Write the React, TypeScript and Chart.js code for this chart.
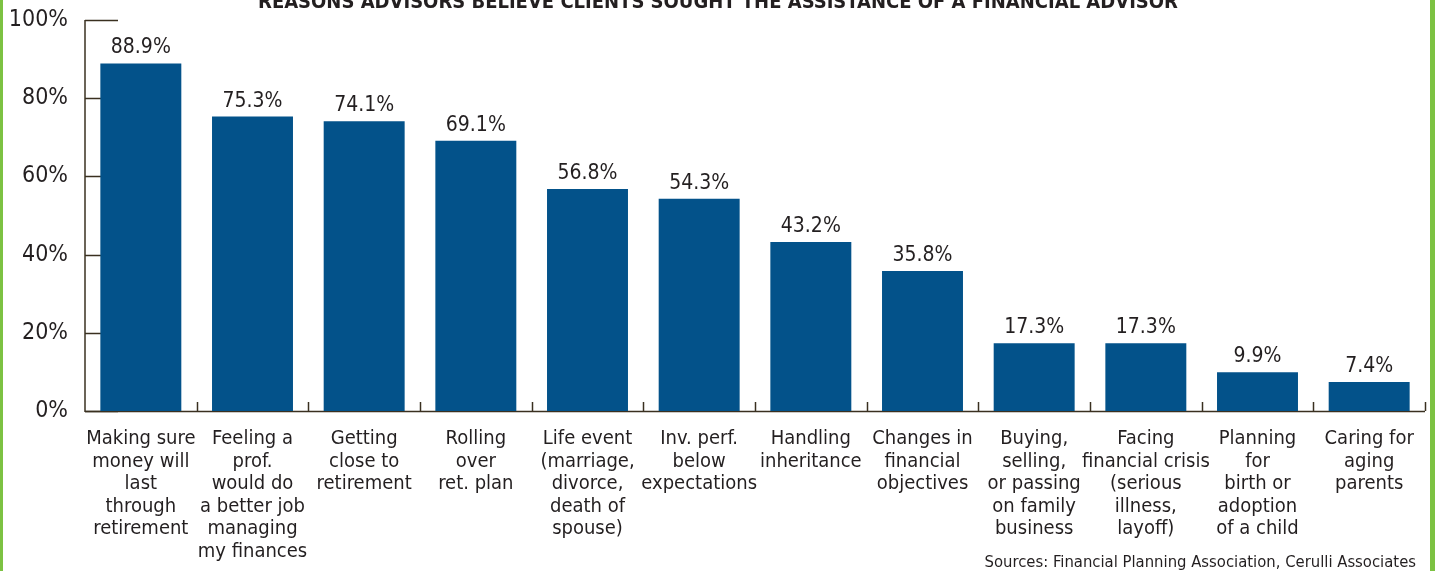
import React, { useEffect, useRef } from "react";
import Chart from "chart.js/auto";

const categories: string[][] = [
  ["Making sure", "money will", "last", "through", "retirement"],
  ["Feeling a", "prof.", "would do", "a better job", "managing", "my finances"],
  ["Getting", "close to", "retirement"],
  ["Rolling", "over", "ret. plan"],
  ["Life event", "(marriage,", "divorce,", "death of", "spouse)"],
  ["Inv. perf.", "below", "expectations"],
  ["Handling", "inheritance"],
  ["Changes in", "financial", "objectives"],
  ["Buying,", "selling,", "or passing", "on family", "business"],
  ["Facing", "financial crisis", "(serious", "illness,", "layoff)"],
  ["Planning", "for", "birth or", "adoption", "of a child"],
  ["Caring for", "aging", "parents"],
];
const values: number[] = [88.9, 75.3, 74.1, 69.1, 56.8, 54.3, 43.2, 35.8, 17.3, 17.3, 9.9, 7.4];
const yTickValues: number[] = [0, 20, 40, 60, 80, 100];
const titleText = "REASONS ADVISORS BELIEVE CLIENTS SOUGHT THE ASSISTANCE OF A FINANCIAL ADVISOR";
const sourceText = "Sources: Financial Planning Association, Cerulli Associates";

const FONT = '"Liberation Sans Narrow", "Arial Narrow", "DejaVu Sans Condensed", sans-serif';
const TEXT = "#231f20";
const AXIS = "#3a3020";
const BAR = "#03528a";
const GREEN = "#7cc242";

export default function App() {
  const ref = useRef<HTMLCanvasElement | null>(null);

  useEffect(() => {
    document.body.style.margin = "0";
    const canvas = ref.current;
    if (!canvas) return;

    const decor = {
      id: "decor",
      beforeDatasetsDraw(chart: any) {
        const ctx = chart.ctx;
        const { left, right, bottom } = chart.chartArea;
        const y = chart.scales.y;
        const x = chart.scales.x;
        ctx.save();
        ctx.strokeStyle = AXIS;
        ctx.lineWidth = 1.5;
        yTickValues.forEach((v) => {
          const py = Math.round(y.getPixelForValue(v)) + 0.5;
          ctx.beginPath();
          ctx.moveTo(left, py);
          ctx.lineTo(left + 33, py);
          ctx.stroke();
        });
        ctx.beginPath();
        ctx.moveTo(left, y.getPixelForValue(100));
        ctx.lineTo(left, bottom + 1);
        ctx.stroke();
        ctx.beginPath();
        ctx.moveTo(left, bottom + 0.5);
        ctx.lineTo(right, bottom + 0.5);
        ctx.stroke();
        const n = categories.length;
        for (let i = 1; i <= n; i++) {
          const px = Math.round(x.left + ((x.right - x.left) * i) / n) + 0.5;
          ctx.beginPath();
          ctx.moveTo(px, bottom);
          ctx.lineTo(px, bottom - 9);
          ctx.stroke();
        }
        ctx.restore();
      },
      afterDatasetsDraw(chart: any) {
        const ctx = chart.ctx;
        const meta = chart.getDatasetMeta(0);
        ctx.save();
        ctx.fillStyle = TEXT;
        ctx.font = `21px ${FONT}`;
        ctx.textAlign = "center";
        ctx.textBaseline = "alphabetic";
        meta.data.forEach((el: any, i: number) => {
          ctx.fillText(values[i].toFixed(1) + "%", el.x, el.y - 10);
        });
        ctx.font = `bold 20px ${FONT}`;
        ctx.fillText(titleText, 718, 8);
        ctx.font = `16.5px ${FONT}`;
        ctx.textAlign = "right";
        ctx.fillText(sourceText, 1416, 567);
        ctx.fillStyle = GREEN;
        ctx.fillRect(0, 0, 3, chart.height);
        ctx.fillRect(1430, 0, 5, chart.height);
        ctx.restore();
      },
    };

    const chart = new Chart(canvas, {
      type: "bar",
      data: {
        labels: categories,
        datasets: [
          {
            data: values,
            backgroundColor: BAR,
            borderWidth: 0,
            barPercentage: 0.725,
            categoryPercentage: 1,
          },
        ],
      },
      options: {
        responsive: false,
        animation: false,
        devicePixelRatio: 1,
        layout: { padding: { left: 0, right: 10, top: 20, bottom: 0 } },
        plugins: {
          legend: { display: false },
          title: { display: false },
          tooltip: { enabled: false },
        },
        scales: {
          x: {
            offset: true,
            grid: { display: false },
            border: { display: false },
            ticks: {
              autoSkip: false,
              maxRotation: 0,
              minRotation: 0,
              padding: 9,
              color: TEXT,
              font: { family: FONT, size: 20, lineHeight: 1.125 },
            },
            afterFit(scale: any) {
              scale.height = 160;
              scale.paddingLeft = 0;
              scale.paddingRight = 0;
            },
          },
          y: {
            min: 0,
            max: 100,
            grid: { display: false, drawTicks: false },
            border: { display: false },
            ticks: {
              stepSize: 20,
              padding: 17,
              color: TEXT,
              font: { family: FONT, size: 23 },
              callback: (v: any) => v + "%",
            },
            afterFit(scale: any) {
              scale.width = 85;
              scale.paddingTop = 0;
              scale.paddingBottom = 0;
            },
          },
        },
      },
      plugins: [decor],
    });

    return () => chart.destroy();
  }, []);

  return (
    <div style={{ width: 1435, height: 571, position: "relative" }}>
      <canvas ref={ref} width={1435} height={571} style={{ display: "block" }} />
    </div>
  );
}
